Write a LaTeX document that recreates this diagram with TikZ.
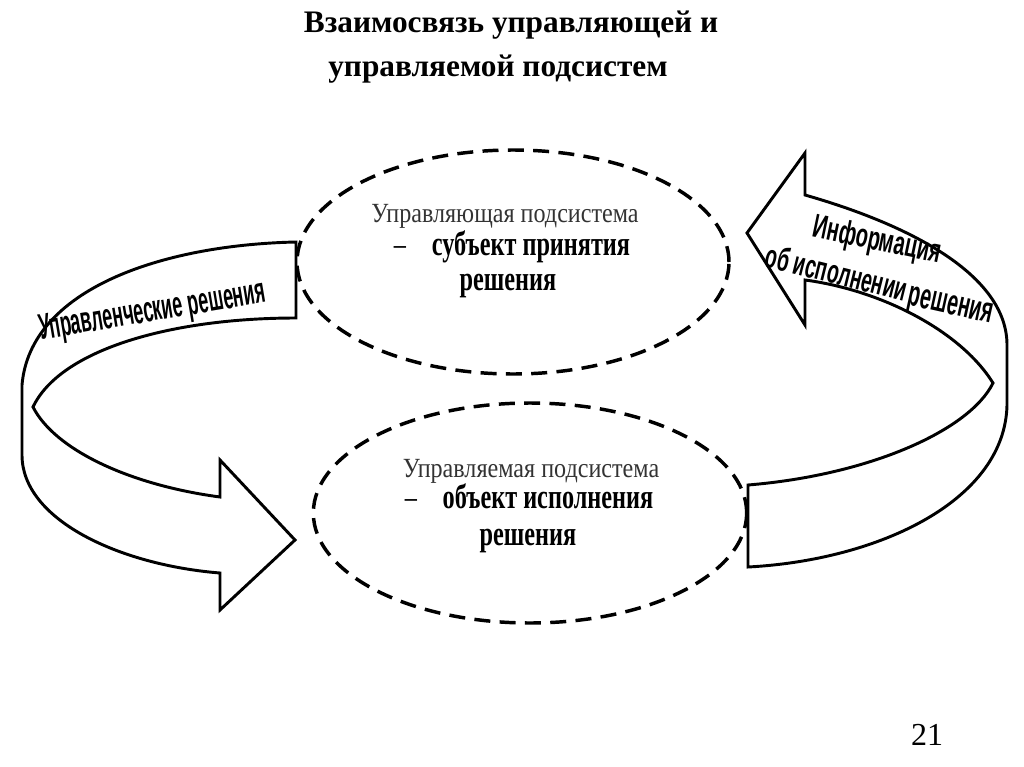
\documentclass[tikz,border=0pt]{standalone}
\usepackage{fontspec}
\setmainfont{Liberation Serif}
\newfontfamily\arialf{Liberation Sans}
\usetikzlibrary{shapes.geometric}
\tikzset{
  ell/.style={ellipse, draw, line width=2.6pt, dash pattern=on 12pt off 7pt, inner sep=0pt},
  ribbon/.style={draw, fill=white, line width=2.2pt, line join=miter},
  etext/.style={anchor=base, inner sep=0pt, text=black!80, xscale=0.87, font=\fontsize{20.8}{24}\selectfont},
  btext/.style={anchor=base, inner sep=0pt, xscale=0.7, font=\fontsize{26}{30}\selectfont\bfseries},
  dtext/.style={anchor=base, inner sep=0pt, xscale=0.7, font=\fontsize{26}{30}\selectfont},
  ltext/.style={anchor=base, inner sep=0pt, font=\arialf\bfseries\fontsize{27}{30}\selectfont},
  rtext/.style={anchor=base, inner sep=0pt, font=\arialf\bfseries\fontsize{25}{28}\selectfont},
  rtextb/.style={anchor=base, inner sep=0pt, font=\arialf\bfseries\fontsize{27}{30}\selectfont},
  ttext/.style={anchor=base, inner sep=0pt, font=\fontsize{23.5}{30}\selectfont\bfseries}
}
\begin{document}
\begin{tikzpicture}[x=0.75pt, y=-0.75pt]
\useasboundingbox (0,0) rectangle (1024,767);
% title
\node[ttext] (title1) at (511,33) {Взаимосвязь управляющей и};
\node[ttext] (title2) at (498,76) {управляемой подсистем};
% left ribbon
\draw[ribbon] (296,242) .. controls (160,245) and (30,290) .. (22,385) -- (22,455)
  .. controls (22,520) and (120,565) .. (220,573) -- (220,610) -- (295,540) -- (220,460) -- (220,497)
  .. controls (130,485) and (55,450) .. (33,407)
  .. controls (60,350) and (170,318) .. (296,318) -- cycle;
% right ribbon
\draw[ribbon] (747,233) -- (805,153) -- (805,195) .. controls (910,225) and (1007,275) .. (1007,345)
  -- (1007,405) .. controls (1005,500) and (880,560) .. (748,567) -- (748,485)
  .. controls (870,475) and (970,430) .. (993,383)
  .. controls (960,330) and (880,290) .. (805,280) -- (805,325) -- cycle;
% ellipses
\node[ell, minimum width=324pt, minimum height=168pt] (top) at (513,262) {};
\node[ell, minimum width=325pt, minimum height=165pt] (bot) at (530,513) {};
% ellipse texts
\node[etext] (t1) at (505,222) {Управляющая подсистема};
\node[dtext] (t2d) at (400,255) {–};
\node[btext] (t2) at (531,255) {субъект принятия};
\node[btext] (t3) at (508,290) {решения};
\node[etext] (b1) at (531,477) {Управляемая подсистема};
\node[dtext] (b2d) at (411,508) {–};
\node[btext] (b2) at (548,508) {объект исполнения};
\node[btext] (b3) at (528,545) {решения};
% ribbon texts
\node[ltext, rotate=9.5, xscale=0.5] (lt) at (154,321) {Управленческие решения};
\node[rtext, rotate=-11.8, xscale=0.6] (rt1) at (875,250) {Информация};
\node[rtext, rotate=-14, xscale=0.58] (rt2a) at (834,284) {об исполнении};
\node[rtextb, rotate=-12.5, xscale=0.55] (rt2b) at (949,314) {решения};
% page number
\node[inner sep=0pt, anchor=base, font=\fontsize{24}{28}\selectfont] (num) at (927,745) {21};
\end{tikzpicture}
\end{document}
